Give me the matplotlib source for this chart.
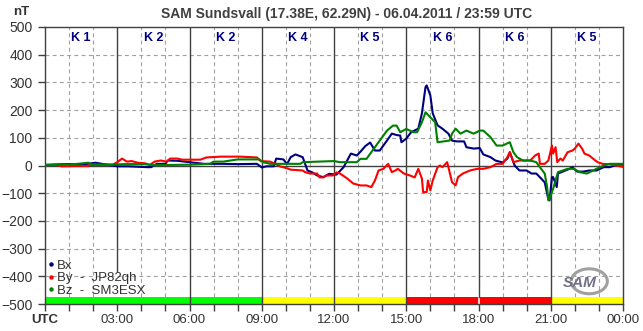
import numpy as np
import matplotlib.pyplot as plt
from matplotlib.lines import Line2D
from matplotlib.patches import Arc

plt.rcParams['font.family'] = ['Liberation Sans', 'DejaVu Sans']

# magnetometer traces, (hour UTC, nT)
bx = [(0, 2), (0.5, 4), (1.0, 5), (1.5, 3), (2.1, 10), (2.5, 4), (3.0, -3), (3.45, -3),
      (4.25, -6), (4.4, -6), (4.65, 6), (5.0, 6), (5.1, 18), (5.5, 17), (6.0, 12), (6.6, 6),
      (7.4, 6), (8.0, 5), (8.8, 6), (9.0, -7), (9.2, -3), (9.5, -3), (9.6, 25), (9.9, 22),
      (10.05, 5), (10.2, 30), (10.4, 40), (10.7, 30), (10.9, -18), (11.1, -25), (11.3, -36),
      (11.55, -42), (11.8, -30), (12.1, -33), (12.4, -6), (12.7, 43), (12.95, 36), (13.1, 50),
      (13.3, 70), (13.5, 83), (13.7, 54), (13.9, 54), (14.2, 90), (14.4, 115), (14.6, 110),
      (14.75, 108), (14.8, 84), (15.0, 97), (15.2, 120), (15.5, 133), (15.65, 188), (15.8, 283),
      (15.85, 289), (16.0, 253), (16.1, 188), (16.3, 145), (16.5, 133), (16.75, 115), (16.9, 90),
      (17.1, 87), (17.4, 87), (17.5, 66), (17.8, 61), (18.05, 63), (18.2, 40), (18.5, 30),
      (18.7, 18), (19.0, 11), (19.2, 25), (19.3, 48), (19.5, 0), (19.7, -18), (20.0, -18),
      (20.2, -29), (20.4, -29), (20.6, -47), (20.75, -61), (20.88, -114), (20.95, -126),
      (21.05, -42), (21.1, -42), (21.25, -78), (21.3, -29), (21.5, -22), (21.8, -11), (21.9, -6),
      (22.1, -22), (22.35, -22), (22.6, -18), (22.9, -18), (23.2, -6), (23.45, -6), (23.75, 3),
      (24, 3)]

by = [(0, 2), (0.5, 2), (0.7, -3), (1.1, -2), (1.8, -2), (1.85, 2), (2.8, 2), (3.0, 12),
      (3.2, 25), (3.4, 14), (3.6, 16), (3.85, 10), (4.15, 8), (4.35, 2), (4.55, 14), (4.8, 18),
      (5.05, 14), (5.2, 25), (5.5, 25), (5.7, 21), (6.45, 21), (6.7, 29), (7.3, 32), (8.1, 32),
      (8.8, 29), (8.95, 16), (9.35, 14), (9.55, 6), (9.75, -3), (10.05, -10), (10.2, -15),
      (10.7, -18), (10.8, -24), (11.0, -29), (11.3, -29), (11.4, -43), (11.55, -43), (11.7, -36),
      (11.95, -36), (12.1, -25), (12.25, -29), (12.55, -47), (12.8, -65), (13.1, -72),
      (13.35, -72), (13.55, -78), (13.7, -54), (13.85, -18), (14.05, -12), (14.25, 6),
      (14.4, -24), (14.55, -18), (14.65, -12), (14.9, -29), (15.15, -36), (15.35, -43),
      (15.5, -12), (15.65, -47), (15.7, -96), (15.85, -96), (15.9, -54), (16.0, -90),
      (16.1, -54), (16.3, -6), (16.4, 0), (16.5, -6), (16.7, 12), (16.75, -6), (16.9, -60),
      (17.05, -72), (17.15, -42), (17.35, -29), (17.65, -18), (17.95, -12), (18.2, -12),
      (18.5, -6), (18.75, 6), (19.0, 6), (19.2, 30), (19.3, 48), (19.45, 12), (19.7, 18),
      (20.15, 18), (20.35, 36), (20.5, 43), (20.55, 6), (20.75, 6), (20.9, 18), (21.05, 72),
      (21.1, 43), (21.2, 66), (21.27, 12), (21.4, 25), (21.5, 18), (21.7, 48), (21.9, 54),
      (22.0, 61), (22.15, 79), (22.3, 61), (22.4, 43), (22.6, 36), (22.85, 18), (22.95, 12),
      (23.15, 6), (23.5, 4), (24, -5)]

bz = [(0, 2), (1.0, 3), (1.8, 10), (1.95, 4), (3.0, 4), (3.3, 5), (4.15, 5), (4.5, 1),
      (6.0, 3), (6.85, 6), (7.0, 14), (7.4, 14), (8.0, 22), (8.9, 22), (9.05, 12), (9.35, 6),
      (10.6, 6), (10.7, 12), (12.0, 16), (12.25, 12), (12.95, 12), (13.1, 24), (13.35, 24),
      (13.6, 54), (13.9, 90), (14.2, 126), (14.45, 144), (14.6, 144), (14.75, 120), (15.0, 132),
      (15.3, 120), (15.45, 120), (15.65, 156), (15.8, 192), (16.0, 174), (16.2, 156), (16.3, 84),
      (16.8, 90), (16.9, 115), (17.05, 133), (17.25, 115), (17.5, 126), (17.8, 115),
      (18.05, 126), (18.2, 126), (18.5, 102), (18.75, 72), (19.0, 72), (19.3, 84), (19.45, 48),
      (19.6, 30), (19.85, 18), (20.15, 18), (20.4, 12), (20.55, -6), (20.75, -29), (20.85, -78),
      (20.9, -126), (20.97, -114), (21.1, -84), (21.3, -24), (21.7, -12), (21.95, -12),
      (22.2, -24), (22.5, -29), (22.9, -12), (23.2, 0), (23.45, 6), (24, 6)]

# K index per 3h block
k_labels = ['K 1', 'K 2', 'K 2', 'K 4', 'K 5', 'K 6', 'K 6', 'K 5']
k_colors = ['#00ff00', '#00ff00', '#00ff00', '#ffff00', '#ffff00', '#ff0000', '#ff0000', '#ffff00']
xtick_labels = ['UTC', '03:00', '06:00', '09:00', '12:00', '15:00', '18:00', '21:00', '00:00']

fig = plt.figure(figsize=(6.43, 3.31), dpi=100)
ax = fig.add_axes([45/643, 27/331, 578/643, 277/331])
ax.set_xlim(0, 24)
ax.set_ylim(-500, 500)

dark = '#404040'
# grid
for y in range(-400, 500, 100):
    if y == 0:
        ax.axhline(0, color=dark, lw=1, zorder=2)
    else:
        ax.axhline(y, color='#a0a0a0', lw=0.8, ls=(0, (3.5, 3)), zorder=1)
for h in range(1, 24):
    if h % 3:
        ax.axvline(h, color='#a0a0a0', lw=0.8, ls=(0, (3.5, 3)), zorder=1)

# K bar along the bottom
for i, c in enumerate(k_colors):
    ax.axvspan(3*i, 3*i + 3, ymin=0, ymax=27/1000, color=c, lw=0, zorder=1.5)
ax.axvline(18, ymin=0, ymax=27/1000, color='white', lw=1.2, zorder=1.6)

for h in range(3, 24, 3):
    if h == 3:
        ax.axvline(h, ymin=120/1000, ymax=1, color=dark, lw=1, zorder=2)
    elif h != 18:
        ax.axvline(h, color=dark, lw=1, zorder=2)
    else:
        ax.axvline(h, ymin=27/1000, ymax=1, color=dark, lw=1, zorder=2)

for i, lab in enumerate(k_labels):
    ax.text(3*i + 1.5, 462, lab, ha='center', va='center', color='#000080',
            fontsize=9, fontweight='bold')

for pts, col in [(bx, '#000080'), (by, '#ff0000'), (bz, '#008000')]:
    t, v = zip(*pts)
    ax.plot(t, v, color=col, lw=1.5, zorder=3)

ax.set_xticks(range(0, 25, 3))
ax.set_xticklabels(xtick_labels)
ax.set_xticks(range(0, 25), minor=True)
ax.set_yticks(range(-500, 501, 100))
ax.tick_params(axis='both', colors=dark, labelcolor='#333333', length=5, width=1)
ax.tick_params(axis='y', labelsize=10, pad=4)
ax.tick_params(axis='x', labelsize=9.5, pad=2)
ax.tick_params(axis='x', which='minor', length=5, width=1, colors=dark)
ax.get_xticklabels()[0].set_fontweight('bold')
for s in ax.spines.values():
    s.set_color(dark)
    s.set_linewidth(1)

fig.text(347/643, 1 - 14/331, 'SAM Sundsvall (17.38E, 62.29N) - 06.04.2011 / 23:59 UTC',
         ha='center', va='center', fontsize=10, fontweight='bold', color='#404040')
fig.text(21/643, 1 - 12/331, 'nT', ha='center', va='center', fontsize=9.5,
         fontweight='bold', color='#333333')

handles = [Line2D([], [], color=c, marker='o', ls='none', markersize=2.2)
           for c in ['#000080', '#ff0000', '#008000']]
ax.legend(handles, ['Bx', 'By  -  JP82qh', 'Bz  -  SM3ESX'], loc='lower left',
          bbox_to_anchor=(0.006, 0.027), frameon=False, fontsize=9.5, handlelength=0.4,
          handletextpad=0.25, labelspacing=0.0, borderaxespad=0, borderpad=0,
          labelcolor='#333333')

# SAM logo
ax.add_patch(Arc((22.6, -418), 1.5, 90, theta1=-100, theta2=160, color='#a0a0a0',
                 lw=2.2, zorder=3.5))
ax.text(22.2, -424, 'SAM', ha='center', va='center', fontsize=11, style='italic',
        color='#707088', fontweight='bold', zorder=4)

fig.savefig('out.png', dpi=100)
